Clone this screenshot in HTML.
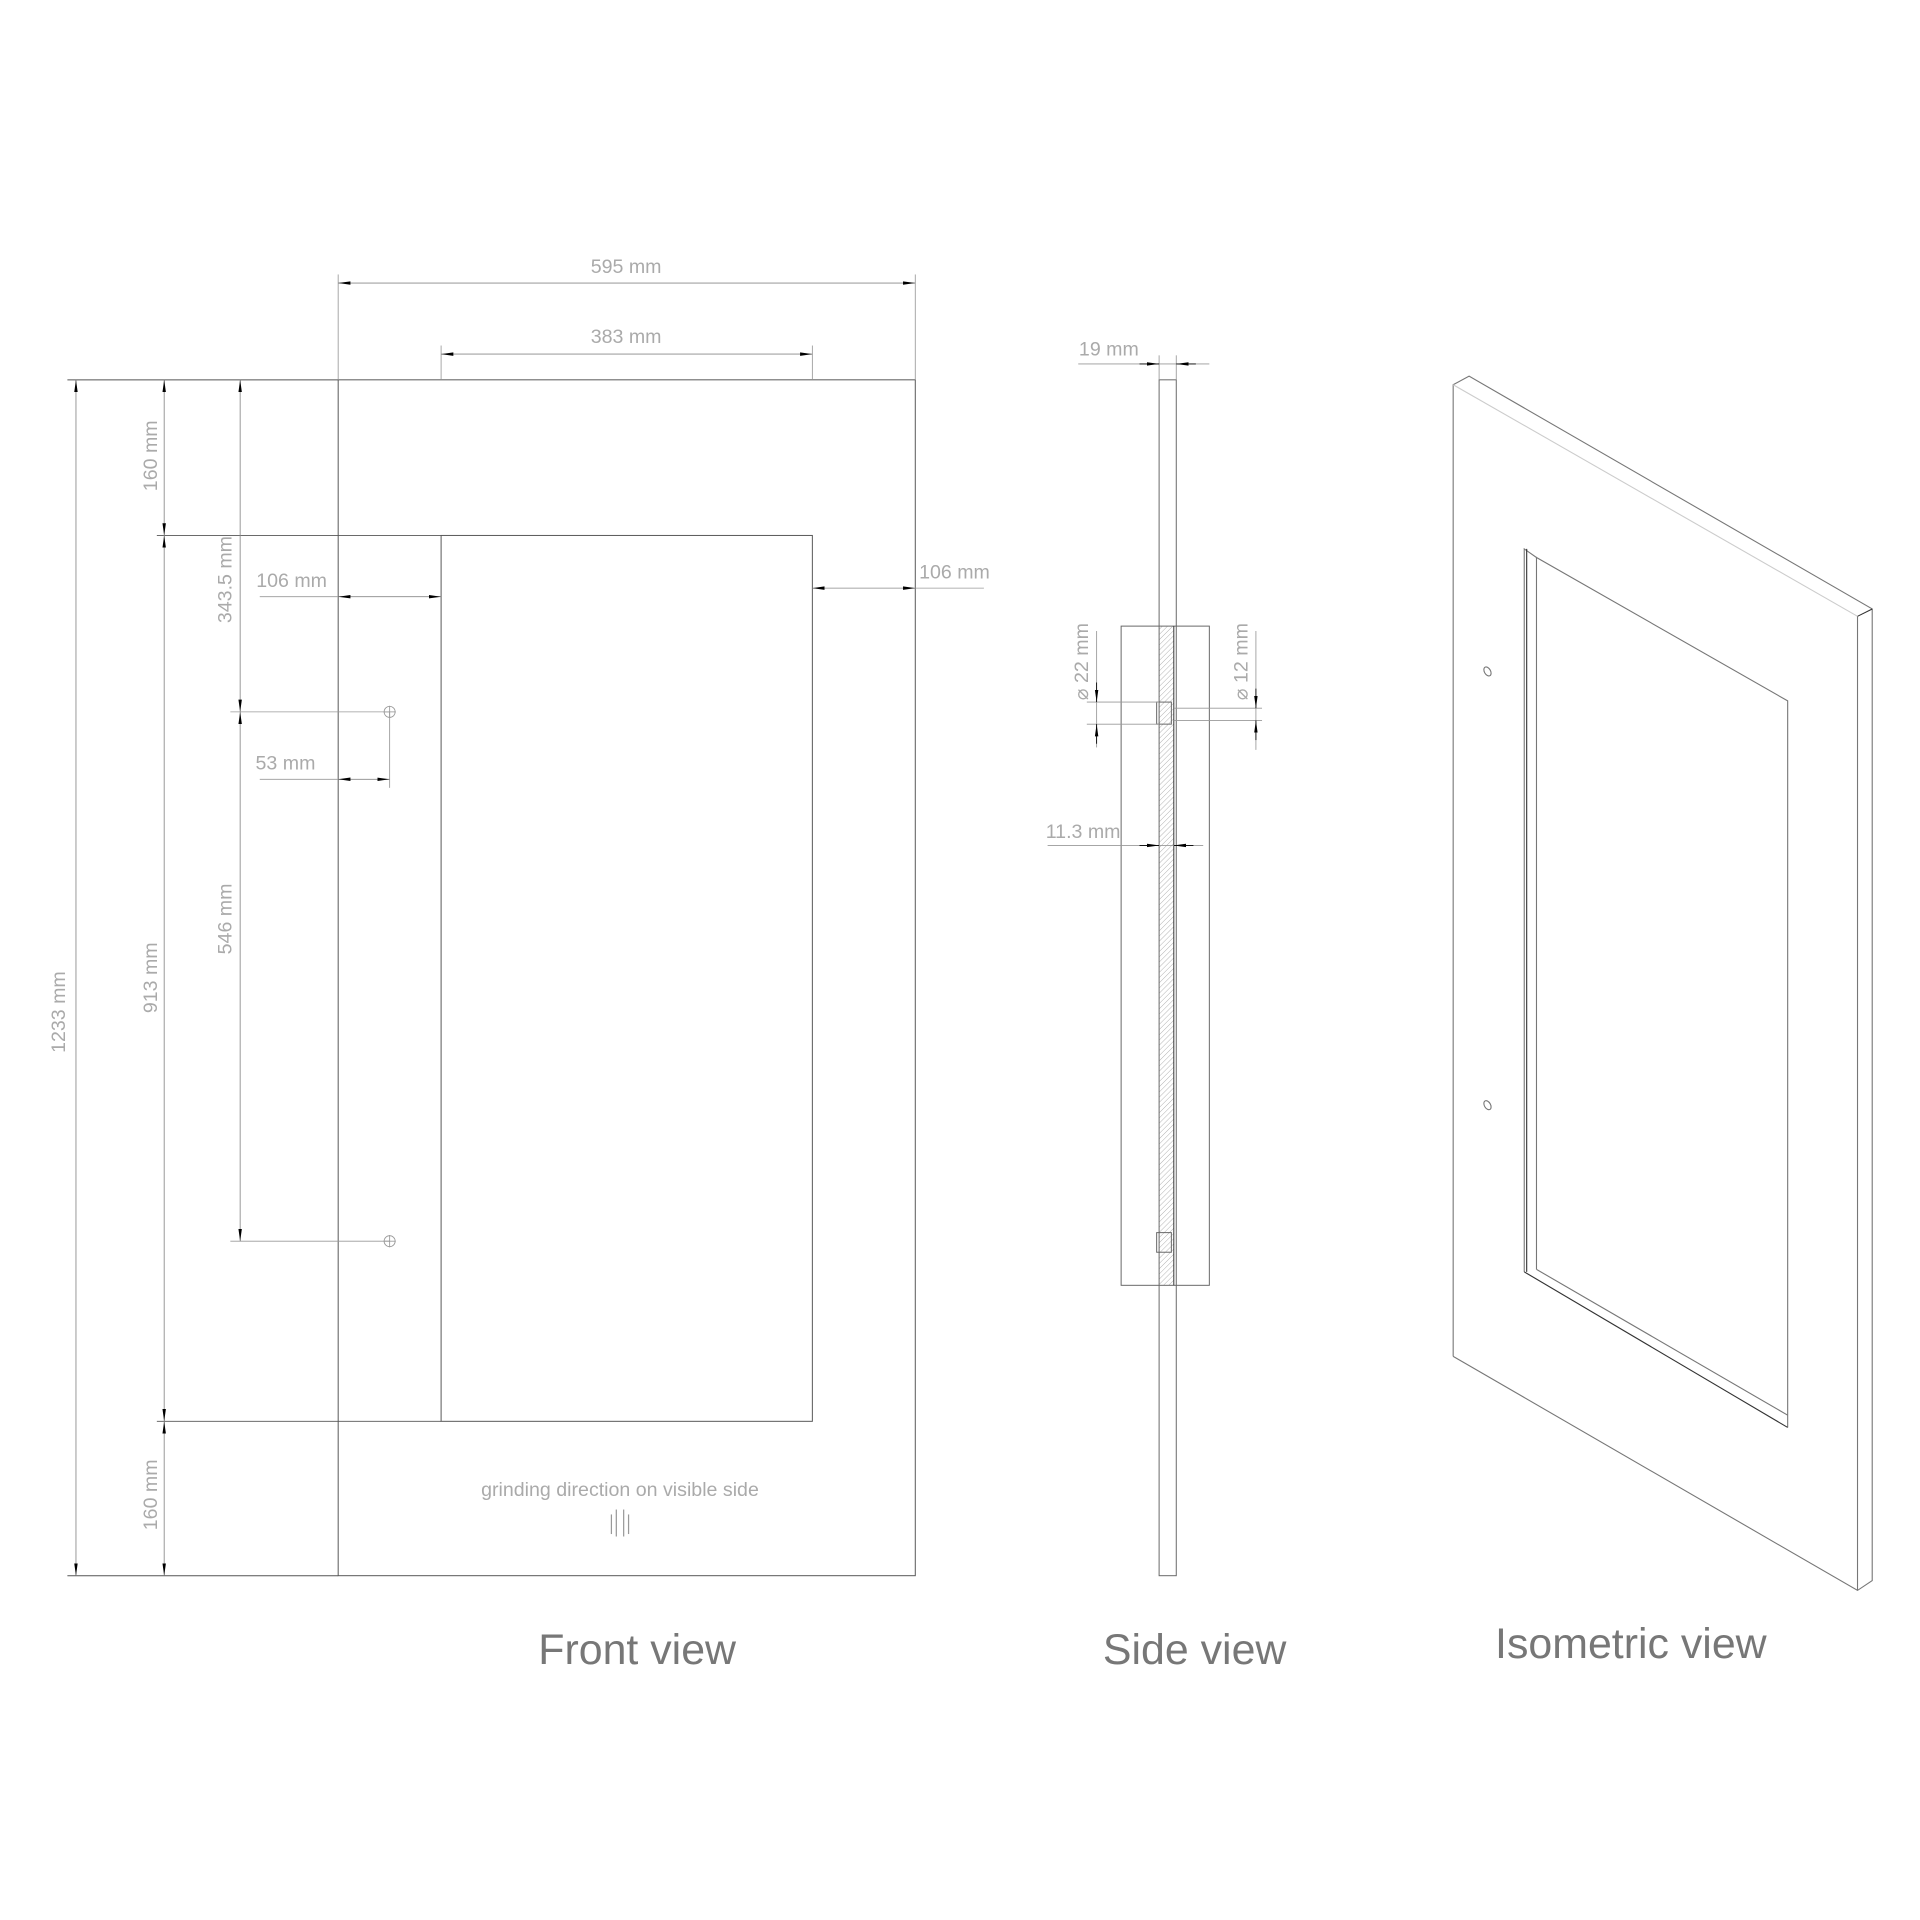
<!DOCTYPE html>
<html><head><meta charset="utf-8"><style>html,body{margin:0;padding:0;background:#fff}svg{display:block}</style></head>
<body>
<svg width="1920" height="1920" viewBox="0 0 1567 1567" xmlns="http://www.w3.org/2000/svg" font-family="Liberation Sans, sans-serif">
<defs>
<marker id="a" viewBox="0 0 10 4" refX="10" refY="2" markerWidth="10" markerHeight="4" orient="auto-start-reverse" markerUnits="userSpaceOnUse"><path d="M0,0.6L10,2L0,3.4z" fill="#000"/></marker>
<pattern id="h" width="3" height="3" patternUnits="userSpaceOnUse" patternTransform="rotate(45)"><line x1="0" y1="0" x2="0" y2="3" stroke="#999" stroke-width="0.6"/></pattern>
</defs>
<g fill="none" stroke="#555" stroke-width="0.8">
<rect x="276" y="310" width="471" height="976"/>
<rect x="360" y="437" width="303" height="723"/>
<line x1="55" y1="310" x2="276" y2="310"/>
<line x1="55" y1="1286" x2="276" y2="1286"/>
<line x1="128" y1="437" x2="360" y2="437"/>
<line x1="128" y1="1160" x2="360" y2="1160"/>
</g>
<g fill="none" stroke="#999" stroke-width="0.7">
<line x1="276" y1="224" x2="276" y2="310"/><line x1="747" y1="224" x2="747" y2="310"/>
<line x1="360" y1="282" x2="360" y2="310"/><line x1="663" y1="282" x2="663" y2="310"/>
<line x1="188" y1="581" x2="318" y2="581"/><line x1="188" y1="1013" x2="318" y2="1013"/>
<line x1="318" y1="581" x2="318" y2="643"/>
<circle cx="318" cy="581" r="4.5"/><line x1="313" y1="581" x2="323" y2="581"/><line x1="318" y1="576" x2="318" y2="586"/>
<circle cx="318" cy="1013" r="4.5"/><line x1="313" y1="1013" x2="323" y2="1013"/><line x1="318" y1="1008" x2="318" y2="1018"/>
<line x1="212" y1="487" x2="276" y2="487"/><line x1="747" y1="480" x2="803" y2="480"/>
<line x1="212" y1="636" x2="276" y2="636"/>
</g>
<g stroke="#888" stroke-width="0.7" marker-start="url(#a)" marker-end="url(#a)">
<line x1="276" y1="231" x2="747" y2="231"/>
<line x1="360" y1="289" x2="663" y2="289"/>
<line x1="62" y1="310" x2="62" y2="1286"/>
<line x1="134" y1="310" x2="134" y2="437"/>
<line x1="134" y1="437" x2="134" y2="1160"/>
<line x1="134" y1="1160" x2="134" y2="1286"/>
<line x1="196" y1="310" x2="196" y2="581"/>
<line x1="196" y1="581" x2="196" y2="1013"/>
<line x1="276" y1="487" x2="360" y2="487"/>
<line x1="663" y1="480" x2="747" y2="480"/>
<line x1="276" y1="636" x2="318" y2="636"/>
</g>
<g fill="#aaa" font-size="16">
<text x="511" y="223" text-anchor="middle">595 mm</text>
<text x="511" y="280" text-anchor="middle">383 mm</text>
<text x="238" y="479" text-anchor="middle">106 mm</text>
<text x="779" y="472" text-anchor="middle">106 mm</text>
<text x="233" y="628" text-anchor="middle">53 mm</text>
<text transform="translate(53,826) rotate(-90)" text-anchor="middle">1233 mm</text>
<text transform="translate(128,372) rotate(-90)" text-anchor="middle">160 mm</text>
<text transform="translate(128,798) rotate(-90)" text-anchor="middle">913 mm</text>
<text transform="translate(128,1220) rotate(-90)" text-anchor="middle">160 mm</text>
<text transform="translate(189,473) rotate(-90)" text-anchor="middle">343.5 mm</text>
<text transform="translate(189,750) rotate(-90)" text-anchor="middle">546 mm</text>
<text x="506" y="1221" text-anchor="middle">grinding direction on visible side</text>
<text x="905" y="290" text-anchor="middle">19 mm</text>
<text x="884" y="684" text-anchor="middle">11.3 mm</text>
<text transform="translate(888,540) rotate(-90)" text-anchor="middle">⌀ 22 mm</text>
<text transform="translate(1018,540) rotate(-90)" text-anchor="middle">⌀ 12 mm</text>
</g>
<g stroke="#999" stroke-width="1"><line x1="499" y1="1236" x2="499" y2="1252"/><line x1="503" y1="1232" x2="503" y2="1254"/><line x1="509" y1="1232" x2="509" y2="1254"/><line x1="513" y1="1236" x2="513" y2="1252"/></g>
<g fill="#777" font-size="35">
<text x="520" y="1358" text-anchor="middle">Front view</text>
<text x="975" y="1358" text-anchor="middle">Side view</text>
<text x="1331" y="1353" text-anchor="middle">Isometric view</text>
</g>
<rect x="946" y="511" width="12" height="538" fill="url(#h)"/>
<g fill="none" stroke="#666" stroke-width="0.8">
<rect x="946" y="310" width="14" height="976"/>
<rect x="915" y="511" width="72" height="538"/>
<line x1="958" y1="511" x2="958" y2="1049" stroke="#333"/>
<rect x="944" y="573" width="12" height="18"/>
<rect x="944" y="1006" width="12" height="16"/>
</g>
<g fill="none" stroke="#999" stroke-width="0.7">
<line x1="946" y1="290" x2="946" y2="310"/><line x1="960" y1="290" x2="960" y2="310"/>
<line x1="880" y1="297" x2="987" y2="297"/>
<line x1="887" y1="573" x2="946" y2="573"/><line x1="887" y1="591" x2="946" y2="591"/>
<line x1="958" y1="578" x2="1030" y2="578"/><line x1="958" y1="588" x2="1030" y2="588"/>
<line x1="895" y1="515" x2="895" y2="610"/><line x1="1025" y1="515" x2="1025" y2="612"/>
<line x1="855" y1="690" x2="982" y2="690"/>
</g>
<g stroke="#000" stroke-width="0.7" marker-end="url(#a)">
<line x1="930" y1="297" x2="946" y2="297"/><line x1="976" y1="297" x2="960" y2="297"/>
<line x1="895" y1="557" x2="895" y2="573"/><line x1="895" y1="607" x2="895" y2="591"/>
<line x1="1025" y1="562" x2="1025" y2="578"/><line x1="1025" y1="604" x2="1025" y2="588"/>
<line x1="930" y1="690" x2="946" y2="690"/><line x1="974" y1="690" x2="958" y2="690"/>
</g>
<g fill="none" stroke="#777" stroke-width="0.9">
<polyline points="1186,1107 1186,314 1199,307 1528,497 1528,1290 1516,1298 1186,1107"/>
<line x1="1516" y1="503" x2="1516" y2="1298"/>
<line x1="1516" y1="503" x2="1528" y2="497" stroke="#333"/>
<line x1="1186" y1="314" x2="1516" y2="503" stroke="#ccc"/>
<polyline points="1244,1038 1244,448 1254,455"/>
<polyline points="1254,1036 1254,455 1459,572 1459,1165"/>
<line x1="1244" y1="1038" x2="1459" y2="1165" stroke="#333"/>
<line x1="1254" y1="1036" x2="1459" y2="1155"/>
<line x1="1246" y1="448" x2="1246" y2="1038" stroke="#333"/>
<ellipse cx="1214" cy="548" rx="2.5" ry="4" transform="rotate(-30 1214 548)"/>
<ellipse cx="1214" cy="902" rx="2.5" ry="4" transform="rotate(-30 1214 902)"/>
</g>
</svg>
</body></html>
